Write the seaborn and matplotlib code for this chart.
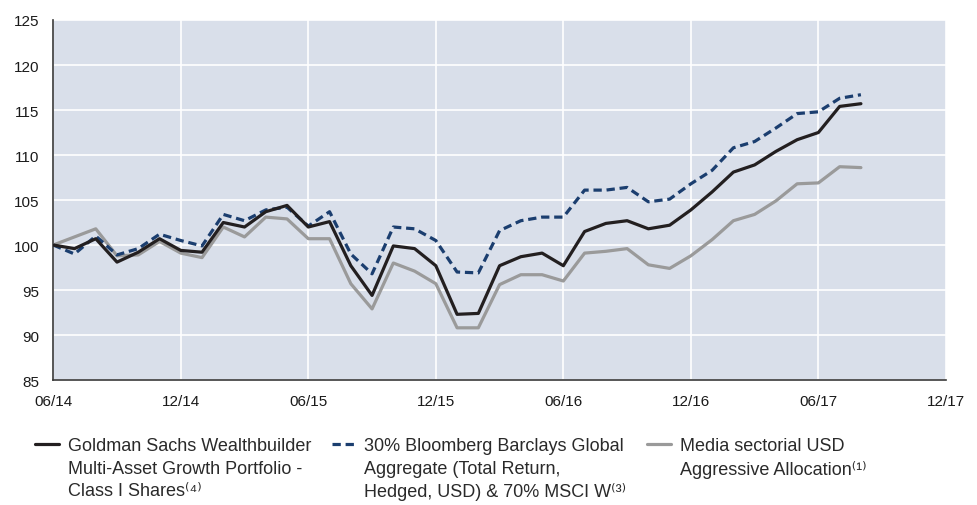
import numpy as np
import pandas as pd
import matplotlib
matplotlib.use("Agg")
import matplotlib.pyplot as plt
import seaborn as sns
from matplotlib.lines import Line2D

# ---- data (monthly, 06/14 .. 08/17) ----
months = pd.date_range("2014-06-30", "2017-08-31", freq="ME")

goldman = [100.0, 99.6, 100.7, 98.1, 99.2, 100.7, 99.4, 99.2, 102.5, 102.0, 103.7, 104.4,
           102.0, 102.6, 97.7, 94.4, 99.9, 99.6, 97.7, 92.3, 92.4, 97.7, 98.7, 99.1,
           97.7, 101.5, 102.4, 102.7, 101.8, 102.2, 103.9, 105.9, 108.1, 108.9, 110.4, 111.7,
           112.5, 115.4, 115.7]
benchmark = [100.0, 99.0, 101.0, 98.9, 99.6, 101.2, 100.5, 99.9, 103.4, 102.7, 103.9, 104.2,
             102.1, 103.7, 99.0, 96.8, 102.0, 101.8, 100.5, 97.0, 96.9, 101.6, 102.7, 103.1,
             103.1, 106.1, 106.1, 106.4, 104.8, 105.1, 106.8, 108.3, 110.8, 111.5, 113.0, 114.6,
             114.8, 116.3, 116.7]
sector = [100.0, 100.9, 101.8, 98.8, 98.9, 100.4, 99.1, 98.6, 102.0, 100.9, 103.1, 102.9,
          100.7, 100.7, 95.7, 92.9, 98.0, 97.1, 95.7, 90.8, 90.8, 95.6, 96.7, 96.7,
          96.0, 99.1, 99.3, 99.6, 97.8, 97.4, 98.8, 100.6, 102.7, 103.4, 104.9, 106.8,
          106.9, 108.7, 108.6]

tick_labels = ["06/14", "12/14", "06/15", "12/15", "06/16", "12/16", "06/17", "12/17"]
y_ticks = [85, 90, 95, 100, 105, 110, 115, 120, 125]

label_goldman = ["Goldman Sachs Wealthbuilder", "Multi-Asset Growth Portfolio -", "Class I Shares\u207d\u2074\u207e"]
label_bench = ["30% Bloomberg Barclays Global", "Aggregate (Total Return,", "Hedged, USD) & 70% MSCI W\u207d\u00b3\u207e"]
label_sector = ["Media sectorial USD", "Aggressive Allocation\u207d\u00b9\u207e", ""]

# ---- styling ----
sns.set_theme(style="white")
plt.rcParams['font.family'] = ['Liberation Sans', 'DejaVu Sans']

c_black = "#231f20"
c_blue = "#1b3e6f"
c_gray = "#9a9a9a"
bg = "#d9dfea"
axis_c = "#3a3a3a"

df = pd.DataFrame({"m": np.arange(len(months)), "goldman": goldman,
                   "benchmark": benchmark, "sector": sector})

fig = plt.figure(figsize=(9.77, 5.06), dpi=100)
ax = fig.add_axes([0.0545, 0.247, 0.9137, 0.7115])
ax.set_facecolor(bg)

lw = 2.3
sns.lineplot(data=df, x="m", y="sector", ax=ax, color=c_gray, lw=lw, zorder=3)
sns.lineplot(data=df, x="m", y="benchmark", ax=ax, color=c_blue, lw=lw, zorder=4,
             dashes=False)
ax.lines[-1].set_dashes((2.6, 1.5))
sns.lineplot(data=df, x="m", y="goldman", ax=ax, color=c_black, lw=lw, zorder=5)

ax.set_xlim(0, 42)
ax.set_ylim(85, 125)
ax.set_xticks(np.arange(0, 43, 6))
ax.set_xticklabels(tick_labels)
ax.set_yticks(y_ticks)
ax.set_xlabel("")
ax.set_ylabel("")

ax.grid(True, color="white", lw=1.2)
ax.set_axisbelow(True)
for s in ["top", "right"]:
    ax.spines[s].set_visible(False)
for s in ["left", "bottom"]:
    ax.spines[s].set_color(axis_c)
    ax.spines[s].set_linewidth(1.2)
ax.tick_params(axis="both", which="both", direction="out", length=5.8, width=1.1,
               color=axis_c, labelsize=11, labelcolor="#1a1a1a", pad=4.3)
ax.tick_params(axis="x", pad=4.0)

# ---- legend (three columns, handle aligned with first line) ----
blank = Line2D([], [], lw=0)
h_g = Line2D([], [], color=c_black, lw=lw)
h_b = Line2D([], [], color=c_blue, lw=lw, dashes=(2.6, 1.5))
h_s = Line2D([], [], color=c_gray, lw=lw)
handles = [h_g, blank, blank, h_b, blank, blank, h_s, blank, blank]
labels = label_goldman + label_bench + label_sector
leg = fig.legend(handles, labels, ncol=3, loc="upper left",
                 frameon=False, fontsize=13.0, handlelength=1.3, handletextpad=0.5,
                 columnspacing=1.15, labelspacing=0.3, borderaxespad=0, borderpad=0)
for t in leg.get_texts():
    t.set_color("#2a2a2a")
leg.set_bbox_to_anchor((0.036, 0.134), transform=fig.transFigure)

fig.savefig("out.png", dpi=100)
